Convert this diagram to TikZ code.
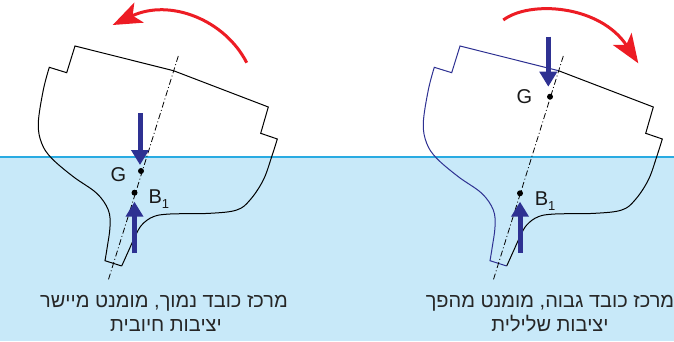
\documentclass[tikz,border=0pt]{standalone}
\usepackage{fontspec}
\setmainfont{Liberation Sans}
\newfontfamily\hebfont[Script=Hebrew]{Liberation Sans}
\TeXXeTstate=1
\usetikzlibrary{arrows.meta}
\definecolor{sea}{RGB}{200,233,249}
\definecolor{sealine}{RGB}{41,171,226}
\definecolor{navy}{RGB}{46,49,146}
\definecolor{turnred}{RGB}{237,28,36}
\tikzset{
  hull/.style={line width=1pt, line join=miter},
  axisline/.style={line width=0.8pt, dash pattern=on 6pt off 2.5pt on 1pt off 2.5pt},
  force/.style={navy, line width=5pt, -{Triangle[length=15pt,width=17pt]}},
  turn/.style={turnred, line width=3pt, -{Stealth[length=29pt,width=22pt,inset=7pt]}},
  cg/.style={circle, fill=black, inner sep=0pt, minimum size=6pt},
  lab/.style={font=\fontsize{20}{20}\selectfont, text=black!90},
  caption/.style={font=\hebfont\fontsize{20}{24}\selectfont, text=black!85, anchor=base}
}
\newcommand{\sub}[1]{\raisebox{-5pt}{\fontsize{13}{13}\selectfont #1}}
% hull outline, #1 = colour of the port side
\newcommand{\shiphull}[1]{%
  \draw[hull, #1] (173.5,70.7) -- (75,46) -- (66.7,72.7) -- plot[smooth, tension=0.6] coordinates {(49.3,67.3) (43.3,90) (38.3,123.3) (41.7,143.3) (51.7,158.3) (73.3,176.7) (96.7,193.3) (108.3,210) (110,226.7) (107.3,246.7) (105,260.7)} -- (121.7,266);
  \draw[hull] plot[smooth, tension=0.6] coordinates {(121.7,266) (128.3,251.4) (135,236.7) (141.7,225) (153.3,216.7) (170,214) (210,213.3) (236.7,210) (250,200) (263.3,180) (271.7,156.7) (277.3,139)} -- (260.7,133.3) -- (268.3,107) -- (173.5,70.7);
  \draw[axisline] (178.3,56) -- (108.3,280);
}

\begin{document}
\begin{tikzpicture}[x=1pt,y=-1pt]
\useasboundingbox (0,0) rectangle (674,341);
% water
\fill[sea] (0,157) rectangle (674,341);
\draw[sealine, line width=2pt] (0,157) -- (674,157);

% low centre of gravity
\shiphull{black}
\node[cg] (gL) at (141,171) {};
\node[cg] (bL) at (134.5,192.7) {};
\node[lab] (gLlab) at (118.3,175) {G};
\node[lab, anchor=base west] (bLlab) at (145,203.5) {B\sub{1}};
\draw[force] ([shift={(-1pt,58pt)}]gL.center) -- ([shift={(-1pt,6pt)}]gL.center);
\draw[force] ([yshift=-60.6pt]bL.center) -- ([yshift=-9pt]bL.center);
\draw[turn] (246.7,62.7) .. controls (225,20) and (170,-2) .. (112.7,25);
\node[caption] (capL1) at (164,307.7) {\beginR מרכז כובד נמוך, מומנט מיישר\endR};
\node[caption] (capL2) at (166,331.7) {\beginR יציבות חיובית\endR};

% high centre of gravity
\begin{scope}[xshift=385pt]
\shiphull{navy}
\node[cg] (gR) at (165,96.7) {};
\node[cg] (bR) at (135,193.3) {};
\node[lab] (gRlab) at (139.3,96.7) {G};
\node[lab, anchor=base west] (bRlab) at (146.3,205) {B\sub{1}};
\draw[force] ([shift={(-1.7pt,60pt)}]gR.center) -- ([shift={(-1.7pt,10pt)}]gR.center);
\draw[force] ([yshift=-59.4pt]bR.center) -- ([yshift=-8.4pt]bR.center);
\end{scope}
\draw[turn] (503.3,20) .. controls (530,0) and (600,5) .. (638.3,63.3);
\node[caption] (capR1) at (550,307.7) {\beginR מרכז כובד גבוה, מומנט מהפך\endR};
\node[caption] (capR2) at (550,331.7) {\beginR יציבות שלילית\endR};
\end{tikzpicture}
\end{document}
